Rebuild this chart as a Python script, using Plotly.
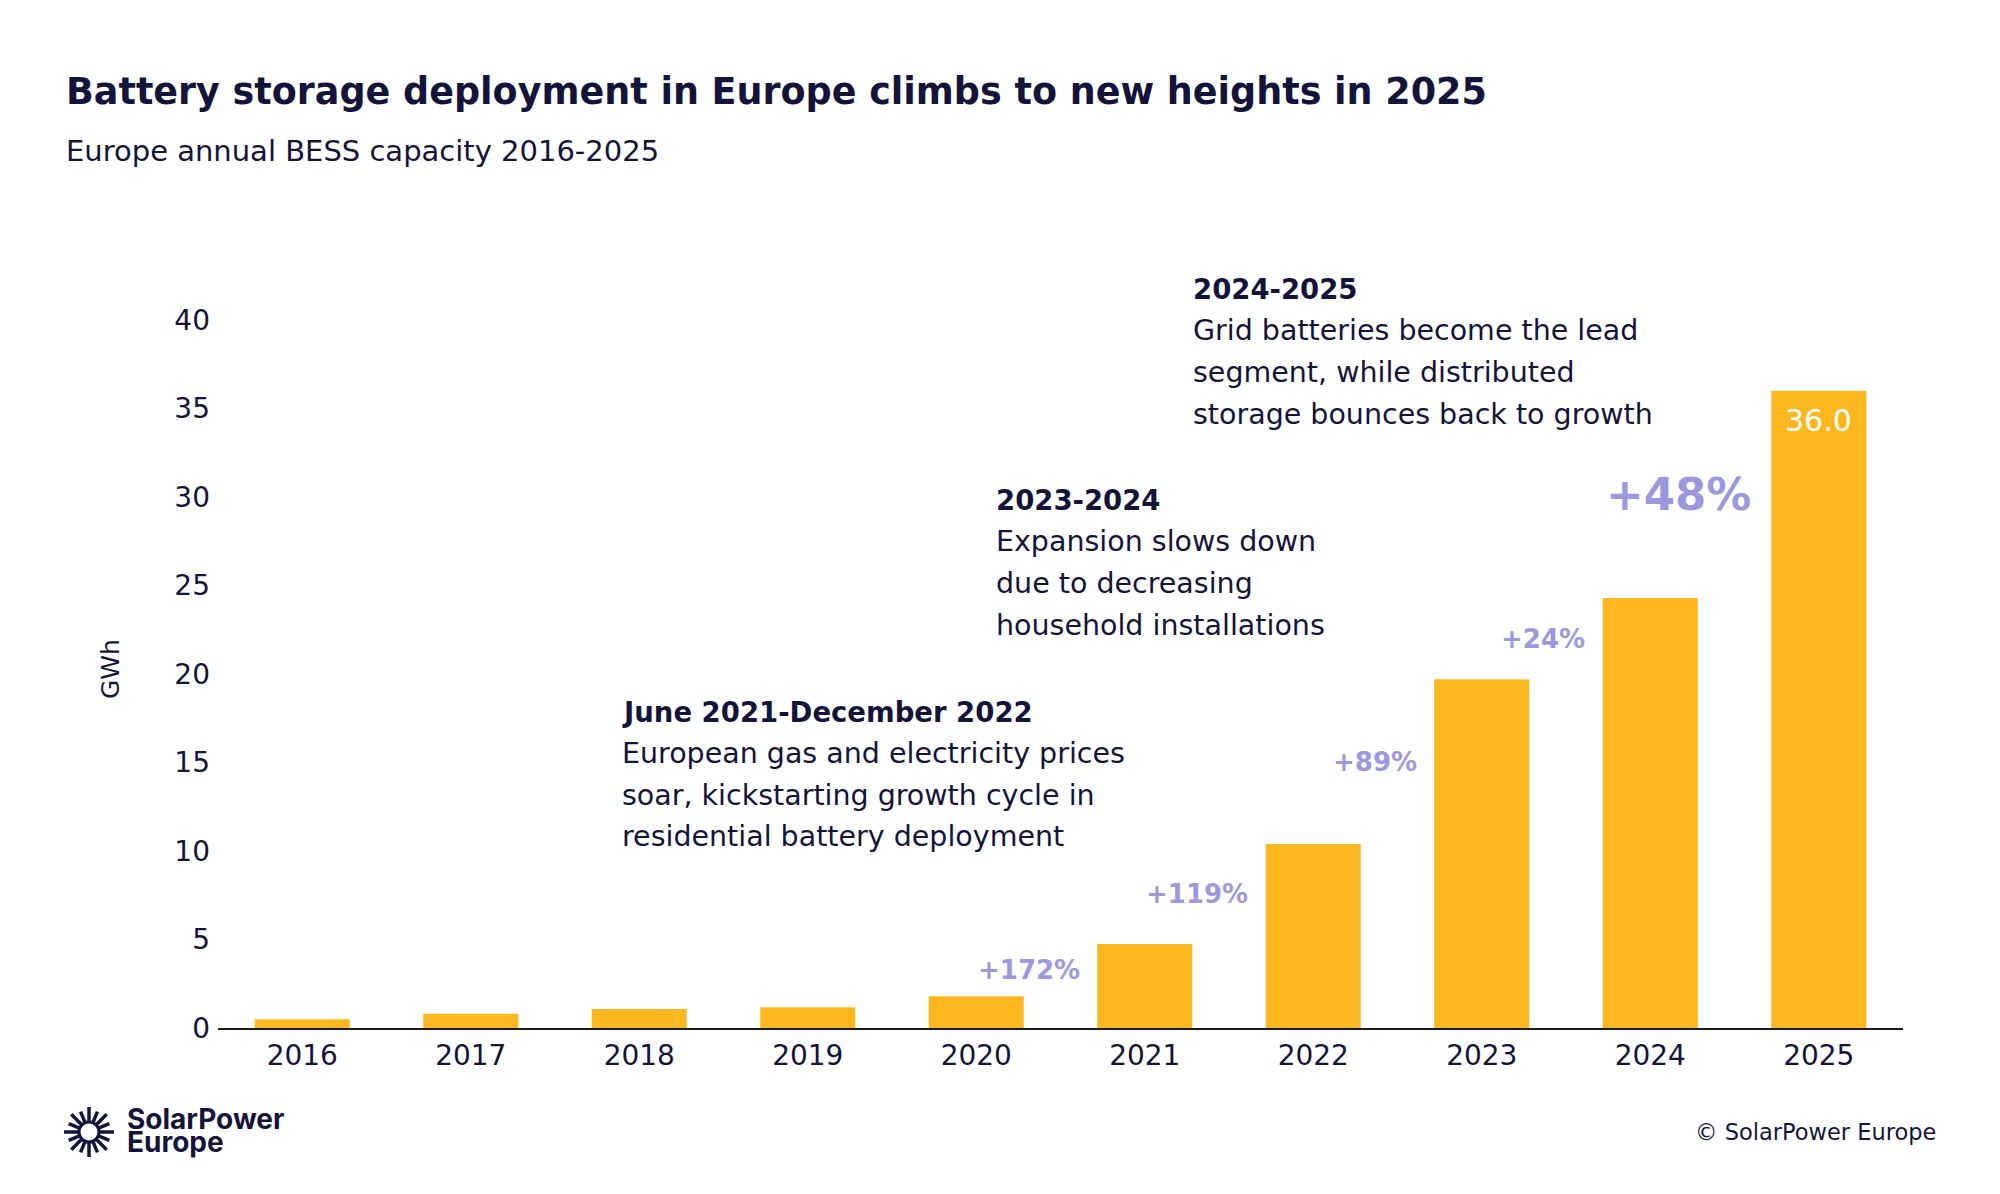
import math
import plotly.graph_objects as go

# Europe annual BESS capacity (GWh)
years = ["2016", "2017", "2018", "2019", "2020", "2021", "2022", "2023", "2024", "2025"]
capacity_gwh = [0.5, 0.8, 1.07, 1.17, 1.8, 4.75, 10.4, 19.7, 24.3, 36.0]

# year-on-year growth labels, shown left of the bar they refer to
growth_years = ["2021", "2022", "2023", "2024", "2025"]
growth_labels = ["+172%", "+119%", "+89%", "+24%", "+48%"]

y_ticks = [0, 5, 10, 15, 20, 25, 30, 35, 40]

title_text = "Battery storage deployment in Europe climbs to new heights in 2025"
subtitle_text = "Europe annual BESS capacity 2016-2025"

note_2022 = ["June 2021-December 2022",
             "European gas and electricity prices",
             "soar, kickstarting growth cycle in",
             "residential battery deployment"]
note_2024 = ["2023-2024",
             "Expansion slows down",
             "due to decreasing",
             "household installations"]
note_2025 = ["2024-2025",
             "Grid batteries become the lead",
             "segment, while distributed",
             "storage bounces back to growth"]

# colours / fonts
BAR = "#FDB71E"
INK = "#14143B"
LAV = "#9C98DE"
FONT = "DejaVu Sans"
LOGO_FONT = "Inter"

# page geometry (pixels)
W, H = 2000, 1194
L, R, T, B = 218, 97, 320, 166
PW, PH = W - L - R, H - T - B


def px(x):
    return (x - L) / PW


def py(y):
    return (H - B - y) / PH


fig = go.Figure()
fig.add_trace(go.Bar(x=years, y=capacity_gwh, marker_color=BAR,
                     marker_line_width=0, hoverinfo="skip"))

ann = []


def text_at(x, baseline, text, size, weight=400, color=INK, xanchor="left", family=FONT):
    ann.append(dict(x=px(x), y=py(baseline - 0.35 * size), xref="paper", yref="paper",
                    text=text, showarrow=False, xanchor=xanchor, yanchor="middle",
                    font=dict(family=family, size=size, color=color, weight=weight)))


# title block
text_at(64, 104, title_text, 36.5, weight=700)
text_at(64, 161, subtitle_text, 29)

# commentary blocks
for lines, left, base in [(note_2022, 620, 721.7), (note_2024, 994, 510), (note_2025, 1191, 299)]:
    for i, line in enumerate(lines):
        if i == 0:
            text_at(left, base, line, 27.5, weight=700)
        else:
            text_at(left, base + i * 41.7, line, 28.5)

# growth labels, vertically between the two bar tops
for yr, lab in zip(growth_years, growth_labels):
    i = years.index(yr)
    mid = (capacity_gwh[i - 1] + capacity_gwh[i]) / 2
    big = yr == "2025"
    ann.append(dict(x=i, y=mid, xref="x", yref="y", text=lab, showarrow=False,
                    xanchor="right", yanchor="middle", xshift=-66 if big else -63,
                    font=dict(family=FONT, size=45 if big else 26, color=LAV, weight=700)))

# value label in the last bar
ann.append(dict(x=len(years) - 1, y=capacity_gwh[-1], xref="x", yref="y",
                text=f"{capacity_gwh[-1]:.1f}", showarrow=False, yanchor="top", yshift=-10,
                font=dict(family=FONT, size=30, color="white")))

# axis title
ann.append(dict(x=px(110), y=py(669), xref="paper", yref="paper", text="GWh",
                showarrow=False, textangle=-90, xanchor="center", yanchor="middle",
                font=dict(family=FONT, size=25, color=INK)))

# footer
text_at(1938, 1140, "© SolarPower Europe", 22.5, xanchor="right")
text_at(125, 1129, "SolarPower", 28, weight=700, family=LOGO_FONT)
text_at(125, 1152, "Europe", 28, weight=700, family=LOGO_FONT)

# logo sunburst
shapes = []
cx, cy = 89, 1132
shapes.append(dict(type="circle", xref="paper", yref="paper",
                   x0=px(cx - 10), x1=px(cx + 10), y0=py(cy + 10), y1=py(cy - 10),
                   line=dict(color=INK, width=3), fillcolor="white"))
for k in range(16):
    a = 2 * math.pi * k / 16
    r1 = 25 if k % 2 == 0 else 22
    shapes.append(dict(type="line", xref="paper", yref="paper",
                       x0=px(cx + 11 * math.cos(a)), y0=py(cy + 11 * math.sin(a)),
                       x1=px(cx + r1 * math.cos(a)), y1=py(cy + r1 * math.sin(a)),
                       line=dict(color=INK, width=3.5)))

fig.update_layout(
    width=W, height=H,
    margin=dict(l=L, r=R, t=T, b=B, pad=0),
    paper_bgcolor="white", plot_bgcolor="white",
    bargap=0.436, showlegend=False,
    annotations=ann, shapes=shapes,
    font=dict(family=FONT, color=INK),
)
fig.update_xaxes(type="category", range=[-0.5, 9.5], showline=True, linecolor="#1a1a1a",
                 linewidth=2, ticks="", showgrid=False, ticklabelstandoff=1,
                 tickfont=dict(family=FONT, size=28, color=INK))
fig.update_yaxes(range=[0, 40], tickvals=y_ticks, showgrid=False, zeroline=False,
                 showline=False, ticks="", ticklabelstandoff=7,
                 tickfont=dict(family=FONT, size=28, color=INK))

fig.write_html("out.html", config={"displayModeBar": False},
               post_script="document.body.style.margin='0px';")
